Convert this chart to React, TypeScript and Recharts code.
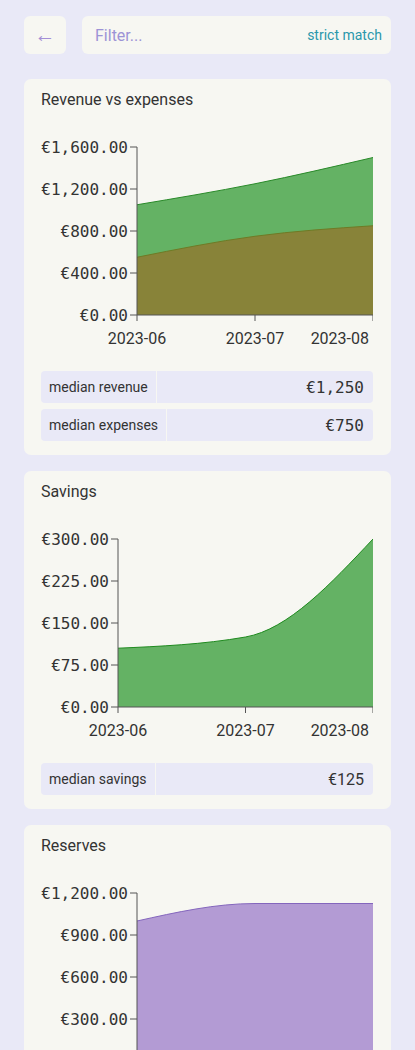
import { Area, AreaChart, XAxis, YAxis } from "recharts";

const months = ["2023-06", "2023-07", "2023-08"];
const revenue = [1050, 1250, 1500];
const expenses = [550, 750, 850];
const savings = [105, 125, 300];
const reserves = [1000, 1125, 1125];

const revenueTicks = [0, 400, 800, 1200, 1600];
const savingsTicks = [0, 75, 150, 225, 300];
const reservesTicks = [0, 300, 600, 900, 1200];

const SANS = "Roboto, 'Noto Sans', sans-serif";
const MONO = "'DejaVu Sans Mono', monospace";
const BG = "#e9e9f7";
const CARD = "#f7f7f2";
const TEXT = "#333333";

const money = (v: number) =>
  "€" + v.toLocaleString("en-US", { minimumFractionDigits: 2, maximumFractionDigits: 2 });

/**
 * X tick, last label pulled inside the plot
 */
const MonthTick = (props: any) => {
  const { x, y, payload, index } = props;
  const last = index === months.length - 1;
  return (
    <text
      x={last ? x - 4 : x}
      y={y}
      dy="0.71em"
      textAnchor={last ? "end" : "middle"}
      fill={TEXT}
      fontFamily={SANS}
      fontSize={16}
    >
      {payload.value}
    </text>
  );
};

interface Stat {
  label: string;
  value: string;
  mono?: boolean;
}

const StatRow = ({ stat }: { stat: Stat }) => (
  <div style={{ display: "flex", gap: 1, height: 32, marginTop: 6 }}>
    <div
      style={{
        background: BG,
        borderRadius: "4px 0 0 4px",
        padding: "0 8px",
        display: "flex",
        alignItems: "center",
        fontSize: 14,
        color: TEXT,
      }}
    >
      {stat.label}
    </div>
    <div
      style={{
        flex: 1,
        background: BG,
        borderRadius: "0 4px 4px 0",
        padding: "0 9px",
        display: "flex",
        alignItems: "center",
        justifyContent: "flex-end",
        fontSize: 16,
        fontFamily: stat.mono ? MONO : SANS,
        color: TEXT,
      }}
    >
      {stat.value}
    </div>
  </div>
);

interface Series {
  key: string;
  fill: string;
  stroke: string;
}

interface CardProps {
  title: string;
  data: Record<string, any>[];
  series: Series[];
  ticks: number[];
  yWidth: number;
  stats: Stat[];
}

const ChartCard = ({ title, data, series, ticks, yWidth, stats }: CardProps) => (
  <div
    style={{
      background: CARD,
      borderRadius: 7,
      padding: "11px 18px 14px 17px",
      marginBottom: 16,
    }}
  >
    <div style={{ fontSize: 16, lineHeight: "20px", color: TEXT }}>{title}</div>
    <AreaChart
      width={332}
      height={251}
      data={data}
      margin={{ top: 37, right: 0, bottom: 0, left: 0 }}
      style={{ overflow: "visible" }}
    >
      <XAxis
        dataKey="month"
        height={46}
        interval={0}
        tickSize={6}
        tickMargin={12}
        stroke="#555555"
        tick={<MonthTick />}
      />
      <YAxis
        width={yWidth}
        domain={[0, ticks[ticks.length - 1]]}
        ticks={ticks}
        interval={0}
        tickSize={7}
        tickMargin={2}
        stroke="#555555"
        tickFormatter={money}
        tick={{ fill: TEXT, fontFamily: MONO, fontSize: 16 }}
      />
      {series.map((s) => (
        <Area
          key={s.key}
          type="monotone"
          dataKey={s.key}
          fill={s.fill}
          fillOpacity={1}
          stroke={s.stroke}
          strokeWidth={1}
          isAnimationActive={false}
        />
      ))}
    </AreaChart>
    <div style={{ marginTop: 10 }}>
      {stats.map((s) => (
        <StatRow key={s.label} stat={s} />
      ))}
    </div>
  </div>
);

const App = () => {
  const cashData = months.map((month, i) => ({ month, revenue: revenue[i], expenses: expenses[i] }));
  const savingsData = months.map((month, i) => ({ month, savings: savings[i] }));
  const reservesData = months.map((month, i) => ({ month, reserves: reserves[i] }));

  return (
    <div
      style={{
        position: "fixed",
        inset: 0,
        background: BG,
        overflow: "hidden",
        fontFamily: SANS,
      }}
    >
      <div style={{ padding: "16px 24px", width: 367 }}>
        <div style={{ display: "flex", gap: 16, height: 38, marginBottom: 25 }}>
          <div
            style={{
              width: 42,
              background: CARD,
              borderRadius: 6,
              display: "flex",
              alignItems: "center",
              justifyContent: "center",
              color: "#a48fd6",
              fontSize: 21,
            }}
          >
            ←
          </div>
          <div
            style={{
              flex: 1,
              background: CARD,
              borderRadius: 6,
              display: "flex",
              alignItems: "center",
              justifyContent: "space-between",
              padding: "0 9px 0 13px",
            }}
          >
            <span style={{ color: "#9d93d6", fontSize: 16 }}>Filter...</span>
            <span style={{ color: "#2a97ab", fontSize: 14 }}>strict match</span>
          </div>
        </div>

        <ChartCard
          title="Revenue vs expenses"
          data={cashData}
          series={[
            { key: "revenue", fill: "#64b264", stroke: "#2a8a2a" },
            { key: "expenses", fill: "#888339", stroke: "#6f7a25" },
          ]}
          ticks={revenueTicks}
          yWidth={96}
          stats={[
            { label: "median revenue", value: "€1,250", mono: true },
            { label: "median expenses", value: "€750", mono: true },
          ]}
        />
        <ChartCard
          title="Savings"
          data={savingsData}
          series={[{ key: "savings", fill: "#64b264", stroke: "#1f8a1f" }]}
          ticks={savingsTicks}
          yWidth={77}
          stats={[{ label: "median savings", value: "€125" }]}
        />
        <ChartCard
          title="Reserves"
          data={reservesData}
          series={[{ key: "reserves", fill: "#b39bd4", stroke: "#8466bd" }]}
          ticks={reservesTicks}
          yWidth={96}
          stats={[{ label: "median reserves", value: "€1,125", mono: true }]}
        />
      </div>
    </div>
  );
};

export default App;
